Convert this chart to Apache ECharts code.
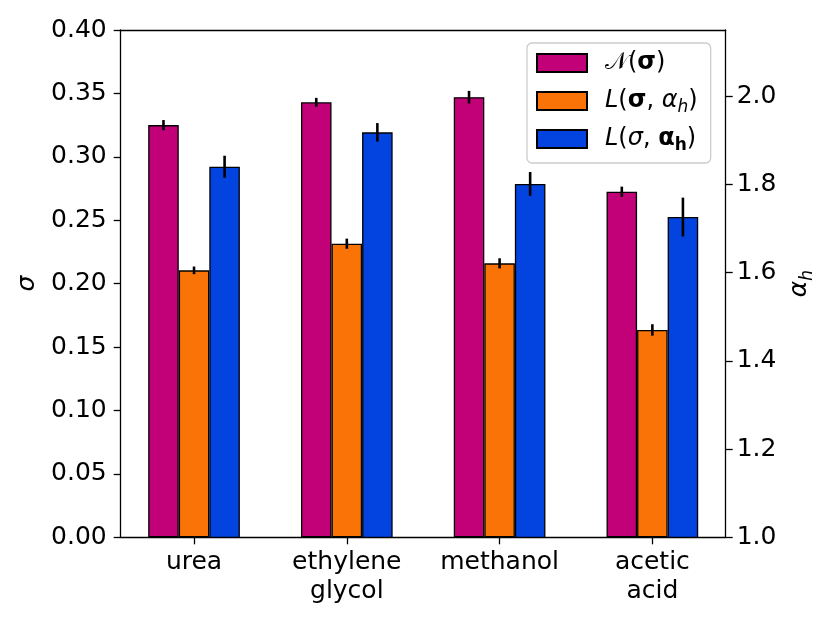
<!DOCTYPE html>
<html><head><meta charset="utf-8">
<script src="https://cdn.jsdelivr.net/npm/echarts@6/dist/echarts.min.js"></script>
<style>html,body{margin:0;padding:0;background:#fff}#c{width:830px;height:623px}</style>
</head><body><div id="c"></div>
<script>
// ---- data ----
const categories = ['urea', 'ethylene\nglycol', 'methanol', 'acetic\nacid'];
const nSigma = [0.325, 0.343, 0.347, 0.2725];
const nSigmaErr = [0.004, 0.0035, 0.005, 0.004];
const lSigma = [0.2105, 0.2315, 0.216, 0.1635];
const lSigmaErr = [0.003, 0.004, 0.004, 0.0045];
const lAlpha = [1.840, 1.918, 1.801, 1.726];
const lAlphaErr = [0.025, 0.021, 0.027, 0.044];
const sigmaTicks = [0, 0.05, 0.10, 0.15, 0.20, 0.25, 0.30, 0.35, 0.40];
const alphaTicks = [1.0, 1.2, 1.4, 1.6, 1.8, 2.0];
const seriesNames = ['N', 'Ls', 'La'];

const FONT = 'DejaVu Sans';
const FS = 25;
const LFS = 24;
const SFS = 17;
const LH = 30;
const catIdx = categories.map((c, i) => i);
const BARW = 0.2;

function barSeries(name, vals, color, yIdx) {
  return {
    type: 'bar', name, yAxisIndex: yIdx, xAxisIndex: 0,
    data: vals.map((v, i) => [i, v]),
    barWidth: '20%', barGap: '0%',
    itemStyle: { color, borderColor: '#000', borderWidth: 1.3 },
    emphasis: { disabled: true }, animation: false
  };
}
function errSeries(name, vals, errs, k, yIdx) {
  return {
    type: 'custom', name: name + '_err', yAxisIndex: yIdx, xAxisIndex: 0, z: 5, silent: true,
    data: vals.map((v, i) => [i, v - errs[i], v + errs[i]]),
    encode: { x: 0, y: [1, 2] },
    renderItem(params, api) {
      const x = api.value(0);
      const lo = api.coord([x, api.value(1)]);
      const hi = api.coord([x, api.value(2)]);
      const dx = api.size([BARW, 0])[0] * (k - 1);
      return { type: 'line', shape: { x1: lo[0] + dx, y1: lo[1], x2: hi[0] + dx, y2: hi[1] },
        style: { stroke: '#000', lineWidth: 2.6 } };
    },
    animation: false
  };
}

const legendLabels = {
  N: '{sp|}{cal|𝒩}{n|(}{b|σ}{n|)}',
  Ls: '{sp|}{it|L}{n|(}{b|σ}{n|, }{it|α}{sub|h}{n|)}',
  La: '{sp|}{it|L}{n|(}{it|σ}{n|, }{b|α}{bsub|h}{n|)}'
};
const richBase = {
  sp: { width: 13, lineHeight: LH },
  n: { fontFamily: FONT, fontSize: LFS, color: '#000', lineHeight: LH },
  it: { fontFamily: FONT, fontSize: LFS, fontStyle: 'italic', color: '#000', lineHeight: LH },
  b: { fontFamily: FONT, fontSize: LFS, fontWeight: 'bold', color: '#000', lineHeight: LH },
  cal: { fontFamily: FONT, fontSize: LFS, color: '#000', lineHeight: LH },
  sub: { fontFamily: FONT, fontSize: SFS, fontStyle: 'italic', color: '#000', verticalAlign: 'bottom', lineHeight: LH },
  bsub: { fontFamily: FONT, fontSize: SFS, fontWeight: 'bold', color: '#000', verticalAlign: 'bottom', lineHeight: LH }
};

const axisLineStyle = { color: '#000', width: 1.3 };
const chart = echarts.init(document.getElementById('c'), null, { renderer: 'canvas' });
chart.setOption({
  animation: false,
  backgroundColor: '#fff',
  grid: { left: 120.7, right: 104.3, top: 30, bottom: 85.7, outerBoundsMode: 'none', containLabel: false },
  legend: {
    orient: 'vertical', left: 527, top: 43,
    data: seriesNames, icon: 'rect', itemWidth: 50, itemHeight: 18, itemGap: 8,
    padding: [5, 13, 9, 9],
    backgroundColor: 'rgba(255,255,255,0.8)', borderColor: '#cccccc', borderWidth: 1.3, borderRadius: 5,
    formatter: name => legendLabels[name],
    textStyle: { fontFamily: FONT, fontSize: LFS, color: '#000', lineHeight: LH, rich: richBase },
    selectedMode: false
  },
  xAxis: [{
    type: 'value', min: -0.48, max: 3.48, position: 'bottom',
    axisLine: { show: true, onZero: false, lineStyle: axisLineStyle },
    axisTick: { show: true, length: 7, lineStyle: axisLineStyle, customValues: catIdx },
    axisLabel: { customValues: catIdx, formatter: v => categories[Math.round(v)] || '',
      fontFamily: FONT, fontSize: FS, color: '#000', margin: 11, lineHeight: 29 },
    splitLine: { show: false }
  }, {
    type: 'value', min: -0.48, max: 3.48, position: 'top',
    axisLine: { show: true, onZero: false, lineStyle: axisLineStyle },
    axisTick: { show: false }, axisLabel: { show: false }, splitLine: { show: false }
  }],
  yAxis: [{
    type: 'value', min: 0, max: 0.4, position: 'left',
    axisLine: { show: true, onZero: false, lineStyle: axisLineStyle },
    axisTick: { show: true, length: 7, lineStyle: axisLineStyle, customValues: sigmaTicks },
    axisLabel: { customValues: sigmaTicks, formatter: v => v.toFixed(2),
      fontFamily: FONT, fontSize: FS, color: '#000', margin: 14 },
    splitLine: { show: false },
    name: 'σ', nameLocation: 'middle', nameRotate: 90, nameGap: 80,
    nameTextStyle: { fontFamily: FONT, fontSize: FS, fontStyle: 'italic', color: '#000' }
  }, {
    type: 'value', min: 1.0, max: 2.15, position: 'right',
    axisLine: { show: true, onZero: false, lineStyle: axisLineStyle },
    axisTick: { show: true, length: 7, lineStyle: axisLineStyle, customValues: alphaTicks },
    axisLabel: { customValues: alphaTicks, formatter: v => v.toFixed(1),
      fontFamily: FONT, fontSize: FS, color: '#000', margin: 11 },
    splitLine: { show: false },
    name: '{a|α}{s|h}', nameLocation: 'middle', nameRotate: 90, nameGap: 58,
    nameTextStyle: { fontFamily: FONT, fontSize: FS, color: '#000',
      rich: { a: { fontFamily: FONT, fontSize: FS, fontStyle: 'italic', color: '#000' },
              s: { fontFamily: FONT, fontSize: SFS, fontStyle: 'italic', color: '#000', verticalAlign: 'bottom', lineHeight: 32 } } }
  }],
  series: [
    barSeries('N', nSigma, '#c20078', 0),
    barSeries('Ls', lSigma, '#f97306', 0),
    barSeries('La', lAlpha, '#0343df', 1),
    errSeries('N', nSigma, nSigmaErr, 0, 0),
    errSeries('Ls', lSigma, lSigmaErr, 1, 0),
    errSeries('La', lAlpha, lAlphaErr, 2, 1)
  ]
});
</script></body></html>
